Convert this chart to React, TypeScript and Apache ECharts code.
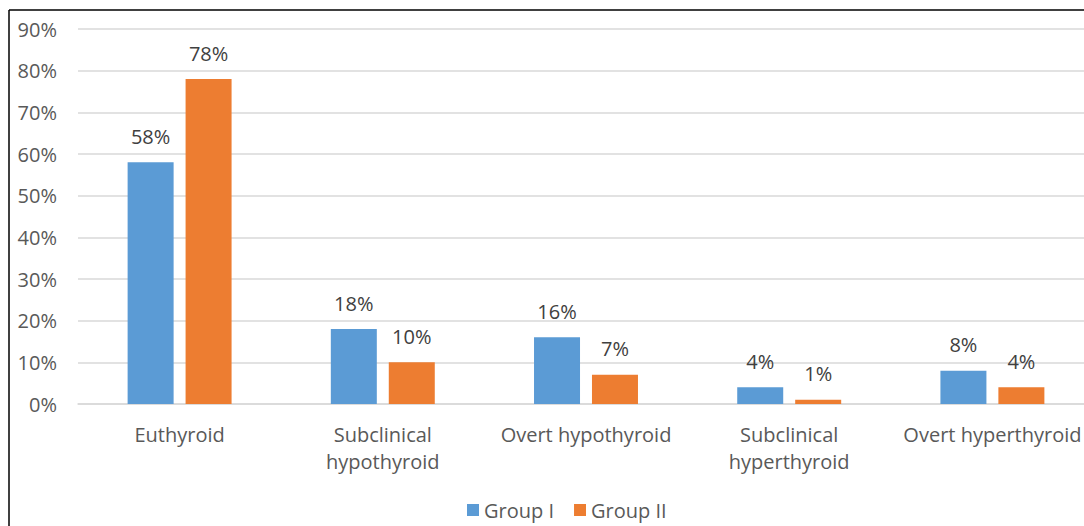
import React, { useEffect, useRef } from "react";
import * as echarts from "echarts";

const categories = [
  "Euthyroid",
  "Subclinical\nhypothyroid",
  "Overt hypothyroid",
  "Subclinical\nhyperthyroid",
  "Overt hyperthyroid",
];
const groupI = [58, 18, 16, 4, 8];
const groupII = [78, 10, 7, 1, 4];
const seriesNames = ["Group I", "Group II"];

export default function App() {
  const ref = useRef<HTMLDivElement>(null);
  useEffect(() => {
    if (!ref.current) return;
    const chart = echarts.init(ref.current, undefined, { renderer: "svg" });
    const font = "'Open Sans', 'Noto Sans', sans-serif";
    chart.setOption({
      animation: false,
      backgroundColor: "#ffffff",
      textStyle: { fontFamily: font },
      grid: { left: 78, top: 29, width: 1016, height: 375, containLabel: false, outerBoundsMode: "none" },
      legend: {
        data: seriesNames,
        top: 497,
        left: 465,
        padding: 2,
        itemWidth: 12,
        itemHeight: 12,
        itemGap: 20,
        icon: "rect",
        textStyle: { color: "#595959", fontSize: 20, lineHeight: 22, fontFamily: font },
      },
      xAxis: {
        type: "category",
        data: categories,
        axisLine: { show: true, lineStyle: { color: "#d9d9d9", width: 1.5 } },
        axisTick: { show: false },
        axisLabel: { color: "#595959", fontSize: 20, lineHeight: 27, margin: 17, fontFamily: font, interval: 0 },
      },
      yAxis: {
        type: "value",
        min: 0,
        max: 90,
        interval: 10,
        axisLabel: { formatter: "{value}%", color: "#595959", fontSize: 20, margin: 21, fontFamily: font },
        splitLine: { lineStyle: { color: "#d9d9d9", width: 1.5 } },
        axisLine: { show: false },
        axisTick: { show: false },
      },
      series: [
        {
          name: seriesNames[0],
          type: "bar",
          data: groupI,
          barWidth: 46,
          barGap: "26%",
          itemStyle: { color: "#5b9bd5" },
          label: { show: true, position: "top", distance: 16, formatter: "{c}%", color: "#404040", fontSize: 20, fontFamily: font },
        },
        {
          name: seriesNames[1],
          type: "bar",
          data: groupII,
          barWidth: 46,
          itemStyle: { color: "#ed7d31" },
          label: { show: true, position: "top", distance: 16, formatter: "{c}%", color: "#404040", fontSize: 20, fontFamily: font },
        },
      ],
      graphic: [
        { type: "line", shape: { x1: 9, y1: 10, x2: 1084, y2: 10 }, style: { stroke: "#000", lineWidth: 1.5 } },
        { type: "line", shape: { x1: 9, y1: 10, x2: 9, y2: 526 }, style: { stroke: "#000", lineWidth: 1.5 } },
      ],
    });
    return () => chart.dispose();
  }, []);
  return (
    <div
      ref={ref}
      style={{ position: "fixed", left: 0, top: 0, width: 1084, height: 526 }}
    />
  );
}
